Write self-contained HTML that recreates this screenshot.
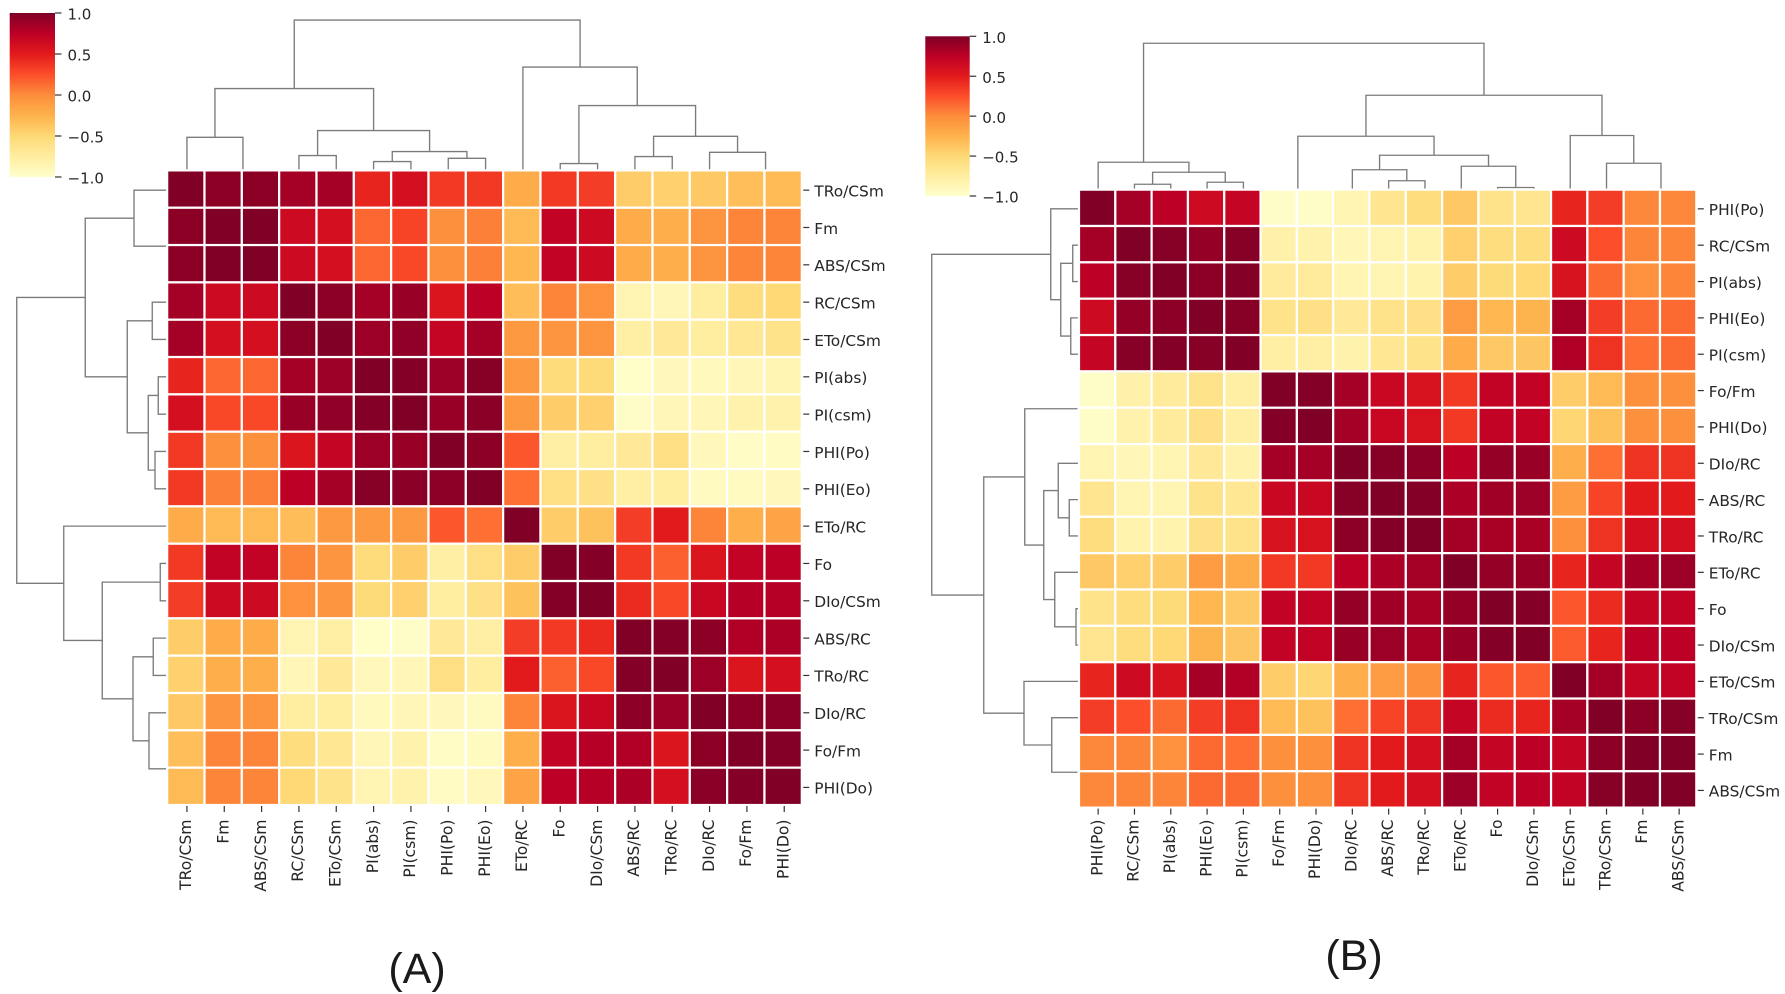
<!DOCTYPE html>
<html lang="en">
<head>
<meta charset="utf-8">
<title>Clustered correlation heatmaps (A) and (B)</title>
<style>
html,body{margin:0;padding:0;background:#fff;width:1785px;height:994px;overflow:hidden}
svg{display:block;filter:blur(0.35px)}
text{font-family:"DejaVu Sans","Liberation Sans",sans-serif;fill:#262626}
.big{font-family:"Liberation Sans",sans-serif;fill:#1a1a1a}
</style>
</head>
<body>
<svg id="fig" xmlns="http://www.w3.org/2000/svg" width="1785" height="994" viewBox="0 0 1785 994">
  <rect x="0" y="0" width="1785" height="994" fill="#ffffff"/>
  <g id="panel-a"></g>
  <g id="panel-b"></g>
  <text class="big" x="417" y="983" font-size="43" text-anchor="middle">(A)</text>
  <text class="big" x="1354" y="970" font-size="43" text-anchor="middle">(B)</text>
</svg>
<script>
const colormapStops = ['#ffffcc','#ffeda0','#fed976','#feb24c','#fd8d3c','#fc4e2a','#e31a1c','#bd0026','#800026'];
const colorbarTicks = [1.0, 0.5, 0.0, -0.5, -1.0];
const colorbarTickLabels = ['1.0', '0.5', '0.0', '\u22120.5', '\u22121.0'];

const labelsA = ['TRo/CSm','Fm','ABS/CSm','RC/CSm','ETo/CSm','PI(abs)','PI(csm)','PHI(Po)','PHI(Eo)','ETo/RC','Fo','DIo/CSm','ABS/RC','TRo/RC','DIo/RC','Fo/Fm','PHI(Do)'];
const matrixA = [
 [1,.95,.95,.85,.85,.45,.6,.35,.35,-.2,.35,.33,-.42,-.45,-.4,-.33,-.3],
 [.95,1,1,.65,.6,.15,.3,-.02,.05,-.3,.72,.65,-.2,-.22,-.05,.03,.03],
 [.95,1,1,.65,.6,.15,.28,-.02,.05,-.28,.72,.65,-.2,-.22,-.05,.03,.03],
 [.85,.65,.65,1,.95,.85,.9,.55,.75,-.32,.03,-.03,-.85,-.88,-.75,-.55,-.5],
 [.85,.6,.6,.95,1,.88,.93,.7,.85,-.08,-.05,-.05,-.78,-.7,-.75,-.68,-.62],
 [.45,.15,.15,.85,.88,1,.98,.88,.97,-.08,-.53,-.52,-.98,-.9,-.92,-.88,-.85],
 [.6,.28,.28,.9,.93,.98,1,.9,.96,-.08,-.42,-.45,-.97,-.88,-.88,-.82,-.82],
 [.35,-.02,-.02,.55,.7,.88,.9,1,.95,.22,-.78,-.75,-.7,-.58,-.9,-.96,-.95],
 [.35,.05,.05,.75,.85,.97,.96,.95,1,.12,-.58,-.6,-.78,-.75,-.93,-.93,-.9],
 [-.2,-.3,-.3,-.32,-.08,-.08,-.08,.22,.12,1,-.42,-.35,.33,.5,.03,-.22,-.15],
 [.35,.72,.72,.03,-.05,-.53,-.42,-.78,-.58,-.42,1,.98,.35,.18,.55,.72,.75],
 [.33,.65,.65,-.03,-.05,-.52,-.45,-.75,-.6,-.35,.98,1,.42,.28,.68,.78,.78],
 [-.42,-.2,-.2,-.85,-.78,-.98,-.97,-.7,-.78,.33,.35,.42,1,.98,.95,.8,.82],
 [-.45,-.22,-.22,-.88,-.7,-.9,-.88,-.58,-.75,.5,.18,.28,.98,1,.88,.55,.6],
 [-.4,-.05,-.05,-.75,-.75,-.92,-.88,-.9,-.93,.03,.55,.68,.95,.88,1,.95,.96],
 [-.33,.03,.03,-.55,-.68,-.88,-.82,-.96,-.93,-.22,.72,.78,.8,.55,.95,1,.98],
 [-.3,.03,.03,-.5,-.62,-.85,-.82,-.95,-.9,-.15,.75,.78,.82,.6,.96,.98,1]
];
const linkageA = [
 [1,2,.02],[0,17,1.32],[3,4,.59],[5,6,.35],[7,8,.48],[20,21,.75],[19,22,1.59],[18,23,3.27],
 [10,11,.27],[12,13,.55],[15,16,.02],[14,27,.72],[26,28,1.36],[25,29,2.59],[9,30,4.13],[24,31,6.01]
];

const labelsB = ['PHI(Po)','RC/CSm','PI(abs)','PHI(Eo)','PI(csm)','Fo/Fm','PHI(Do)','DIo/RC','ABS/RC','TRo/RC','ETo/RC','Fo','DIo/CSm','ETo/CSm','TRo/CSm','Fm','ABS/CSm'];
const matrixB = [
 [1,.85,.75,.65,.7,-.97,-.97,-.85,-.65,-.55,-.4,-.62,-.65,.45,.33,.02,.02],
 [.85,1,.97,.92,.97,-.8,-.82,-.88,-.85,-.83,-.45,-.55,-.55,.65,.25,.03,.03],
 [.75,.97,1,.95,.98,-.72,-.72,-.85,-.85,-.83,-.42,-.52,-.5,.58,.14,-.03,.03],
 [.65,.92,.95,1,.97,-.62,-.6,-.7,-.62,-.6,-.1,-.28,-.26,.85,.33,.14,.14],
 [.7,.97,.98,.97,1,-.78,-.78,-.82,-.68,-.62,-.2,-.4,-.38,.8,.38,.12,.14],
 [-.97,-.8,-.72,-.62,-.78,1,.98,.85,.68,.58,.35,.72,.72,-.42,-.3,-.02,-.02],
 [-.97,-.82,-.72,-.6,-.78,.98,1,.85,.68,.58,.35,.72,.72,-.48,-.35,-.02,-.02],
 [-.85,-.88,-.85,-.7,-.82,.85,.85,1,.97,.95,.75,.92,.9,-.22,.12,.38,.38],
 [-.65,-.85,-.85,-.62,-.68,.68,.68,.97,1,.98,.82,.87,.88,-.1,.3,.5,.5],
 [-.55,-.83,-.83,-.6,-.62,.58,.58,.95,.98,1,.85,.83,.83,-.02,.38,.6,.6],
 [-.4,-.45,-.42,-.1,-.2,.35,.35,.75,.82,.85,1,.92,.9,.45,.7,.85,.88],
 [-.62,-.55,-.52,-.28,-.4,.72,.72,.92,.87,.83,.92,1,.98,.22,.42,.7,.72],
 [-.65,-.55,-.5,-.26,-.38,.72,.72,.9,.88,.83,.9,.98,1,.2,.45,.75,.75],
 [.45,.65,.58,.85,.8,-.42,-.48,-.22,-.1,-.02,.45,.22,.2,1,.85,.7,.72],
 [.33,.25,.14,.33,.38,-.3,-.35,.12,.3,.38,.7,.42,.45,.85,1,.95,.97],
 [.02,.03,-.03,.14,.12,-.02,-.02,.38,.5,.6,.85,.7,.75,.7,.95,1,1],
 [.02,.03,.03,.14,.14,-.02,-.02,.38,.5,.6,.88,.72,.75,.72,.97,1,1]
];
const linkageB = [
 [1,2,.21],[3,4,.29],[17,18,.69],[0,19,1.09],[5,6,.02],[8,9,.35],[7,22,.79],[11,12,.08],
 [10,24,.93],[23,25,1.37],[21,26,2.13],[15,16,.02],[14,28,1.05],[13,29,2.16],[27,30,3.77],[20,31,5.85]
];

const SVGNS = 'http://www.w3.org/2000/svg';
function make(parent, tag, attrs) {
  const el = document.createElementNS(SVGNS, tag);
  for (const k in attrs) el.setAttribute(k, attrs[k]);
  parent.appendChild(el);
  return el;
}
function hexToRgb(h) {
  return [parseInt(h.slice(1,3),16), parseInt(h.slice(3,5),16), parseInt(h.slice(5,7),16)];
}
function colorFor(v) {
  const t = Math.max(0, Math.min(1, (v + 1) / 2)) * (colormapStops.length - 1);
  const i = Math.min(Math.floor(t), colormapStops.length - 2);
  const f = t - i;
  const a = hexToRgb(colormapStops[i]);
  const b = hexToRgb(colormapStops[i + 1]);
  const c = a.map((p, n) => Math.round(p + (b[n] - p) * f));
  return 'rgb(' + c.join(',') + ')';
}

function drawDendrogram(group, linkage, n, toLine, namePrefix) {
  const pos = [];
  const hgt = [];
  for (let i = 0; i < n; i++) { pos.push(i + 0.5); hgt.push(0); }
  linkage.forEach(function (m) {
    const a = m[0], b = m[1], h = m[2];
    /* merges this close to zero are hidden against the heatmap edge */
    if (h >= 0.05) {
      const p = [[pos[a], hgt[a]], [pos[a], h], [pos[b], h], [pos[b], hgt[b]]];
      const pts = p.map(function (q) { return toLine(q[0], q[1]).join(','); }).join(' ');
      const el = make(group, 'polyline', {points: pts, fill: 'none', stroke: '#7b7b7b', 'stroke-width': 1.35});
      
      
    }
    pos.push((pos[a] + pos[b]) / 2);
    hgt.push(h);
  });
}

function drawPanel(id, labels, matrix, linkage, g) {
  const root = document.getElementById(id);
  const n = labels.length;
  const xOf = function (c) { return g.x0 + (g.x1 - g.x0) * c / n; };
  const yOf = function (r) { return g.y0 + (g.y1 - g.y0) * r / n; };

  /* colour bar */
  const defs = make(root, 'defs', {});
  const grad = make(defs, 'linearGradient', {id: id + '-grad', x1: 0, y1: 1, x2: 0, y2: 0});
  colormapStops.forEach(function (c, i) {
    make(grad, 'stop', {offset: i / (colormapStops.length - 1), 'stop-color': c});
  });
  const cb = make(root, 'g', {});
  
  
  const cbRect = make(cb, 'rect', {x: g.cbx0, y: g.cby0, width: g.cbx1 - g.cbx0, height: g.cby1 - g.cby0, fill: 'url(#' + id + '-grad)'});
  
  
  const cbY = function (v) { return g.cby1 - (v + 1) / 2 * (g.cby1 - g.cby0); };
  colorbarTicks.forEach(function (v, i) {
    const y = cbY(v);
    const tick = make(cb, 'line', {x1: g.cbx1, x2: g.cbx1 + 6.5, y1: y, y2: y, stroke: '#333', 'stroke-width': 1.2});
    
    
    const t = make(cb, 'text', {x: g.cbx1 + 12.5, y: y + 6.6, 'font-size': 15});
    t.textContent = colorbarTickLabels[i];
    
    
  });

  /* dendrograms */
  const top = make(root, 'g', {});
  
  
  drawDendrogram(top, linkage, n, function (p, h) { return [xOf(p) + g.off, g.topBase - h * 25]; }, 'column-dendrogram');
  const left = make(root, 'g', {});
  
  
  drawDendrogram(left, linkage, n, function (p, h) { return [g.leftBase - h * 25, yOf(p) + g.off]; }, 'row-dendrogram');

  /* heatmap */
  const heat = make(root, 'g', {});
  
  
  matrix.forEach(function (row, r) {
    row.forEach(function (v, c) {
      const cell = make(heat, 'rect', {x: xOf(c), y: yOf(r), width: xOf(c + 1) - xOf(c), height: yOf(r + 1) - yOf(r), fill: colorFor(v), stroke: '#ffffff', 'stroke-width': 2.2});
      
      
    });
  });

  /* axis ticks and labels */
  const axes = make(root, 'g', {});
  
  
  labels.forEach(function (lab, i) {
    const y = yOf(i + 0.5) + g.off;
    const rt = make(axes, 'line', {x1: g.x1 + 1.5, x2: g.x1 + 7.5, y1: y, y2: y, stroke: '#333', 'stroke-width': 1.2});
    
    
    const rl = make(axes, 'text', {x: g.x1 + 12.5, y: y + 6.3, 'font-size': 15.4});
    rl.textContent = lab;
    
    

    const x = xOf(i + 0.5) + g.off;
    const ct = make(axes, 'line', {x1: x, x2: x, y1: g.y1 + 1, y2: g.y1 + 7, stroke: '#333', 'stroke-width': 1.2});
    
    
    const cl = make(axes, 'text', {transform: 'translate(' + (x + 4.2) + ',' + g.labelTop + ') rotate(-90)', x: 0, y: 0, 'font-size': 15.6, 'text-anchor': 'end'});
    cl.textContent = lab;
    
    
  });
}

drawPanel('panel-a', labelsA, matrixA, linkageA, {
  x0: 167.17, x1: 801.8, y0: 170.4, y1: 805, off: 1.1,
  cbx0: 9.7, cbx1: 55, cby0: 13, cby1: 177,
  topBase: 170.3, leftBase: 167, labelTop: 819.5
});
drawPanel('panel-b', labelsB, matrixB, linkageB, {
  x0: 1079, x1: 1696.3, y0: 189.65, y1: 807.6, off: 1,
  cbx0: 925.3, cbx1: 969.7, cby0: 36.3, cby1: 196,
  topBase: 189.5, leftBase: 1078, labelTop: 819.5
});
</script>
</body>
</html>
